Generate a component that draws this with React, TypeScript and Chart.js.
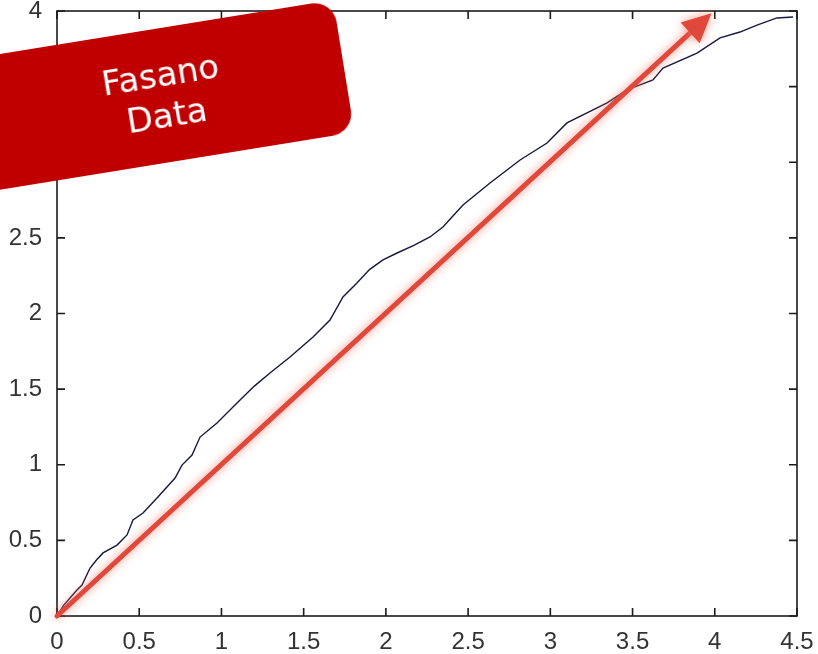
import React, { useEffect, useRef } from "react";
import { Chart, registerables } from "chart.js";

Chart.register(...registerables);

const CURVE_X = [
  0, 0.04, 0.079, 0.12, 0.152, 0.201, 0.24, 0.28, 0.365, 0.426, 0.462, 0.523, 0.608, 0.718, 0.76,
  0.821, 0.87, 0.973, 1.052, 1.113, 1.2, 1.295, 1.417, 1.557, 1.66, 1.739, 1.824, 1.9, 1.982,
  2.068, 2.17, 2.268, 2.347, 2.402, 2.469, 2.633, 2.816, 2.98, 3.101, 3.223, 3.345, 3.466,
  3.624, 3.685, 3.892, 4.032, 4.153, 4.257, 4.378, 4.476,
];
const CURVE_Y = [
  0, 0.07, 0.119, 0.17, 0.205, 0.317, 0.37, 0.417, 0.469, 0.536, 0.635, 0.681, 0.78, 0.912, 0.998,
  1.064, 1.183, 1.276, 1.362, 1.428, 1.52, 1.607, 1.712, 1.845, 1.957, 2.109, 2.202, 2.29, 2.354,
  2.4, 2.45, 2.506, 2.572, 2.638, 2.717, 2.863, 3.015, 3.127, 3.26, 3.326, 3.392, 3.478,
  3.544, 3.623, 3.722, 3.822, 3.861, 3.907, 3.954, 3.96,
];
const X_TICKS = [0, 0.5, 1, 1.5, 2, 2.5, 3, 3.5, 4, 4.5];
const Y_TICKS = [0, 0.5, 1, 1.5, 2, 2.5, 3, 3.5, 4];
const ARROW_FROM = [0, 0];
const ARROW_TO = [3.98, 3.985];
const BANNER_LINES = ["Fasano", "Data"];

export default function App() {
  const ref = useRef<HTMLCanvasElement>(null);

  useEffect(() => {
    if (!ref.current) return;

    const decor = {
      id: "matlabDecor",
      afterDatasetsDraw(chart: any) {
        const { ctx, chartArea: a, scales } = chart;
        const sx = scales.x;
        const sy = scales.y;
        ctx.save();
        ctx.strokeStyle = "#1c1c1c";
        ctx.lineWidth = 1.6;
        ctx.strokeRect(a.left, a.top, a.right - a.left, a.bottom - a.top);
        const L = 8;
        ctx.beginPath();
        for (const v of X_TICKS) {
          const px = sx.getPixelForValue(v);
          ctx.moveTo(px, a.bottom);
          ctx.lineTo(px, a.bottom - L);
          ctx.moveTo(px, a.top);
          ctx.lineTo(px, a.top + L);
        }
        for (const v of Y_TICKS) {
          const py = sy.getPixelForValue(v);
          ctx.moveTo(a.left, py);
          ctx.lineTo(a.left + L, py);
          ctx.moveTo(a.right, py);
          ctx.lineTo(a.right - L, py);
        }
        ctx.stroke();

        const x0 = sx.getPixelForValue(ARROW_FROM[0]);
        const y0 = sy.getPixelForValue(ARROW_FROM[1]);
        const x1 = sx.getPixelForValue(ARROW_TO[0]);
        const y1 = sy.getPixelForValue(ARROW_TO[1]);
        const dx = x1 - x0;
        const dy = y1 - y0;
        const len = Math.hypot(dx, dy);
        const ux = dx / len;
        const uy = dy / len;
        const headLen = 29;
        const headHalf = 14;
        const bx = x1 - ux * headLen;
        const by = y1 - uy * headLen;
        ctx.shadowColor = "rgba(240,120,100,0.8)";
        ctx.shadowBlur = 8;
        ctx.strokeStyle = "#e1483c";
        ctx.fillStyle = "#e1483c";
        ctx.lineWidth = 5;
        ctx.lineCap = "round";
        ctx.beginPath();
        ctx.moveTo(x0, y0);
        ctx.lineTo(bx + ux * 4, by + uy * 4);
        ctx.stroke();
        ctx.beginPath();
        ctx.moveTo(x1, y1);
        ctx.lineTo(bx - uy * headHalf, by + ux * headHalf);
        ctx.lineTo(bx + uy * headHalf, by - ux * headHalf);
        ctx.closePath();
        ctx.fill();
        ctx.restore();
      },
    };

    const tickFont = { family: "'Liberation Sans Narrow', 'Liberation Sans', Arial, sans-serif", size: 24 };

    const chart = new Chart(ref.current, {
      type: "line",
      data: {
        datasets: [
          {
            data: CURVE_X.map((x, i) => ({ x, y: CURVE_Y[i] })),
            borderColor: "#17173f",
            borderWidth: 1.4,
            pointRadius: 0,
            tension: 0,
            fill: false,
          },
        ],
      },
      options: {
        animation: false,
        responsive: false,
        maintainAspectRatio: false,
        layout: { padding: { left: 0, right: 21, top: 11, bottom: 0 } },
        plugins: { legend: { display: false }, tooltip: { enabled: false } },
        scales: {
          x: {
            type: "linear",
            min: 0,
            max: 4.5,
            grid: { display: false },
            border: { display: false },
            afterBuildTicks: (s: any) => {
              s.ticks = X_TICKS.map((v) => ({ value: v }));
            },
            afterFit: (s: any) => {
              s.height = 38;
              s.paddingLeft = 0;
              s.paddingRight = 0;
            },
            ticks: {
              autoSkip: false,
              maxRotation: 0,
              padding: 4,
              color: "#333",
              font: tickFont,
              callback: (v: any) => String(v),
            },
          },
          y: {
            type: "linear",
            min: 0,
            max: 4,
            grid: { display: false },
            border: { display: false },
            afterBuildTicks: (s: any) => {
              s.ticks = Y_TICKS.map((v) => ({ value: v }));
            },
            afterFit: (s: any) => {
              s.width = 57;
              s.paddingTop = 0;
              s.paddingBottom = 0;
            },
            ticks: {
              autoSkip: false,
              padding: 7,
              color: "#333",
              font: tickFont,
              callback: (v: any) => String(v),
            },
          },
        },
      },
      plugins: [decor],
    } as any);

    return () => chart.destroy();
  }, []);

  return (
    <div
      style={{
        position: "absolute",
        left: 0,
        top: 0,
        width: 818,
        height: 654,
        overflow: "hidden",
        background: "#fff",
      }}
    >
      <canvas ref={ref} width={818} height={654} style={{ display: "block" }} />
      <div
        style={{
          position: "absolute",
          left: -87,
          top: 0,
          width: 420,
          height: 134,
          boxSizing: "border-box",
          paddingLeft: 55,
          background: "#c00000",
          borderRadius: 22,
          transform: "rotate(-9.2deg)",
          transformOrigin: "100% 0",
          display: "flex",
          flexDirection: "column",
          justifyContent: "center",
          alignItems: "center",
          color: "#fff",
          fontFamily: "'DejaVu Sans', Verdana, sans-serif",
          fontSize: 34,
          lineHeight: "41px",
        }}
      >
        {BANNER_LINES.map((t) => (
          <div key={t}>{t}</div>
        ))}
      </div>
    </div>
  );
}
